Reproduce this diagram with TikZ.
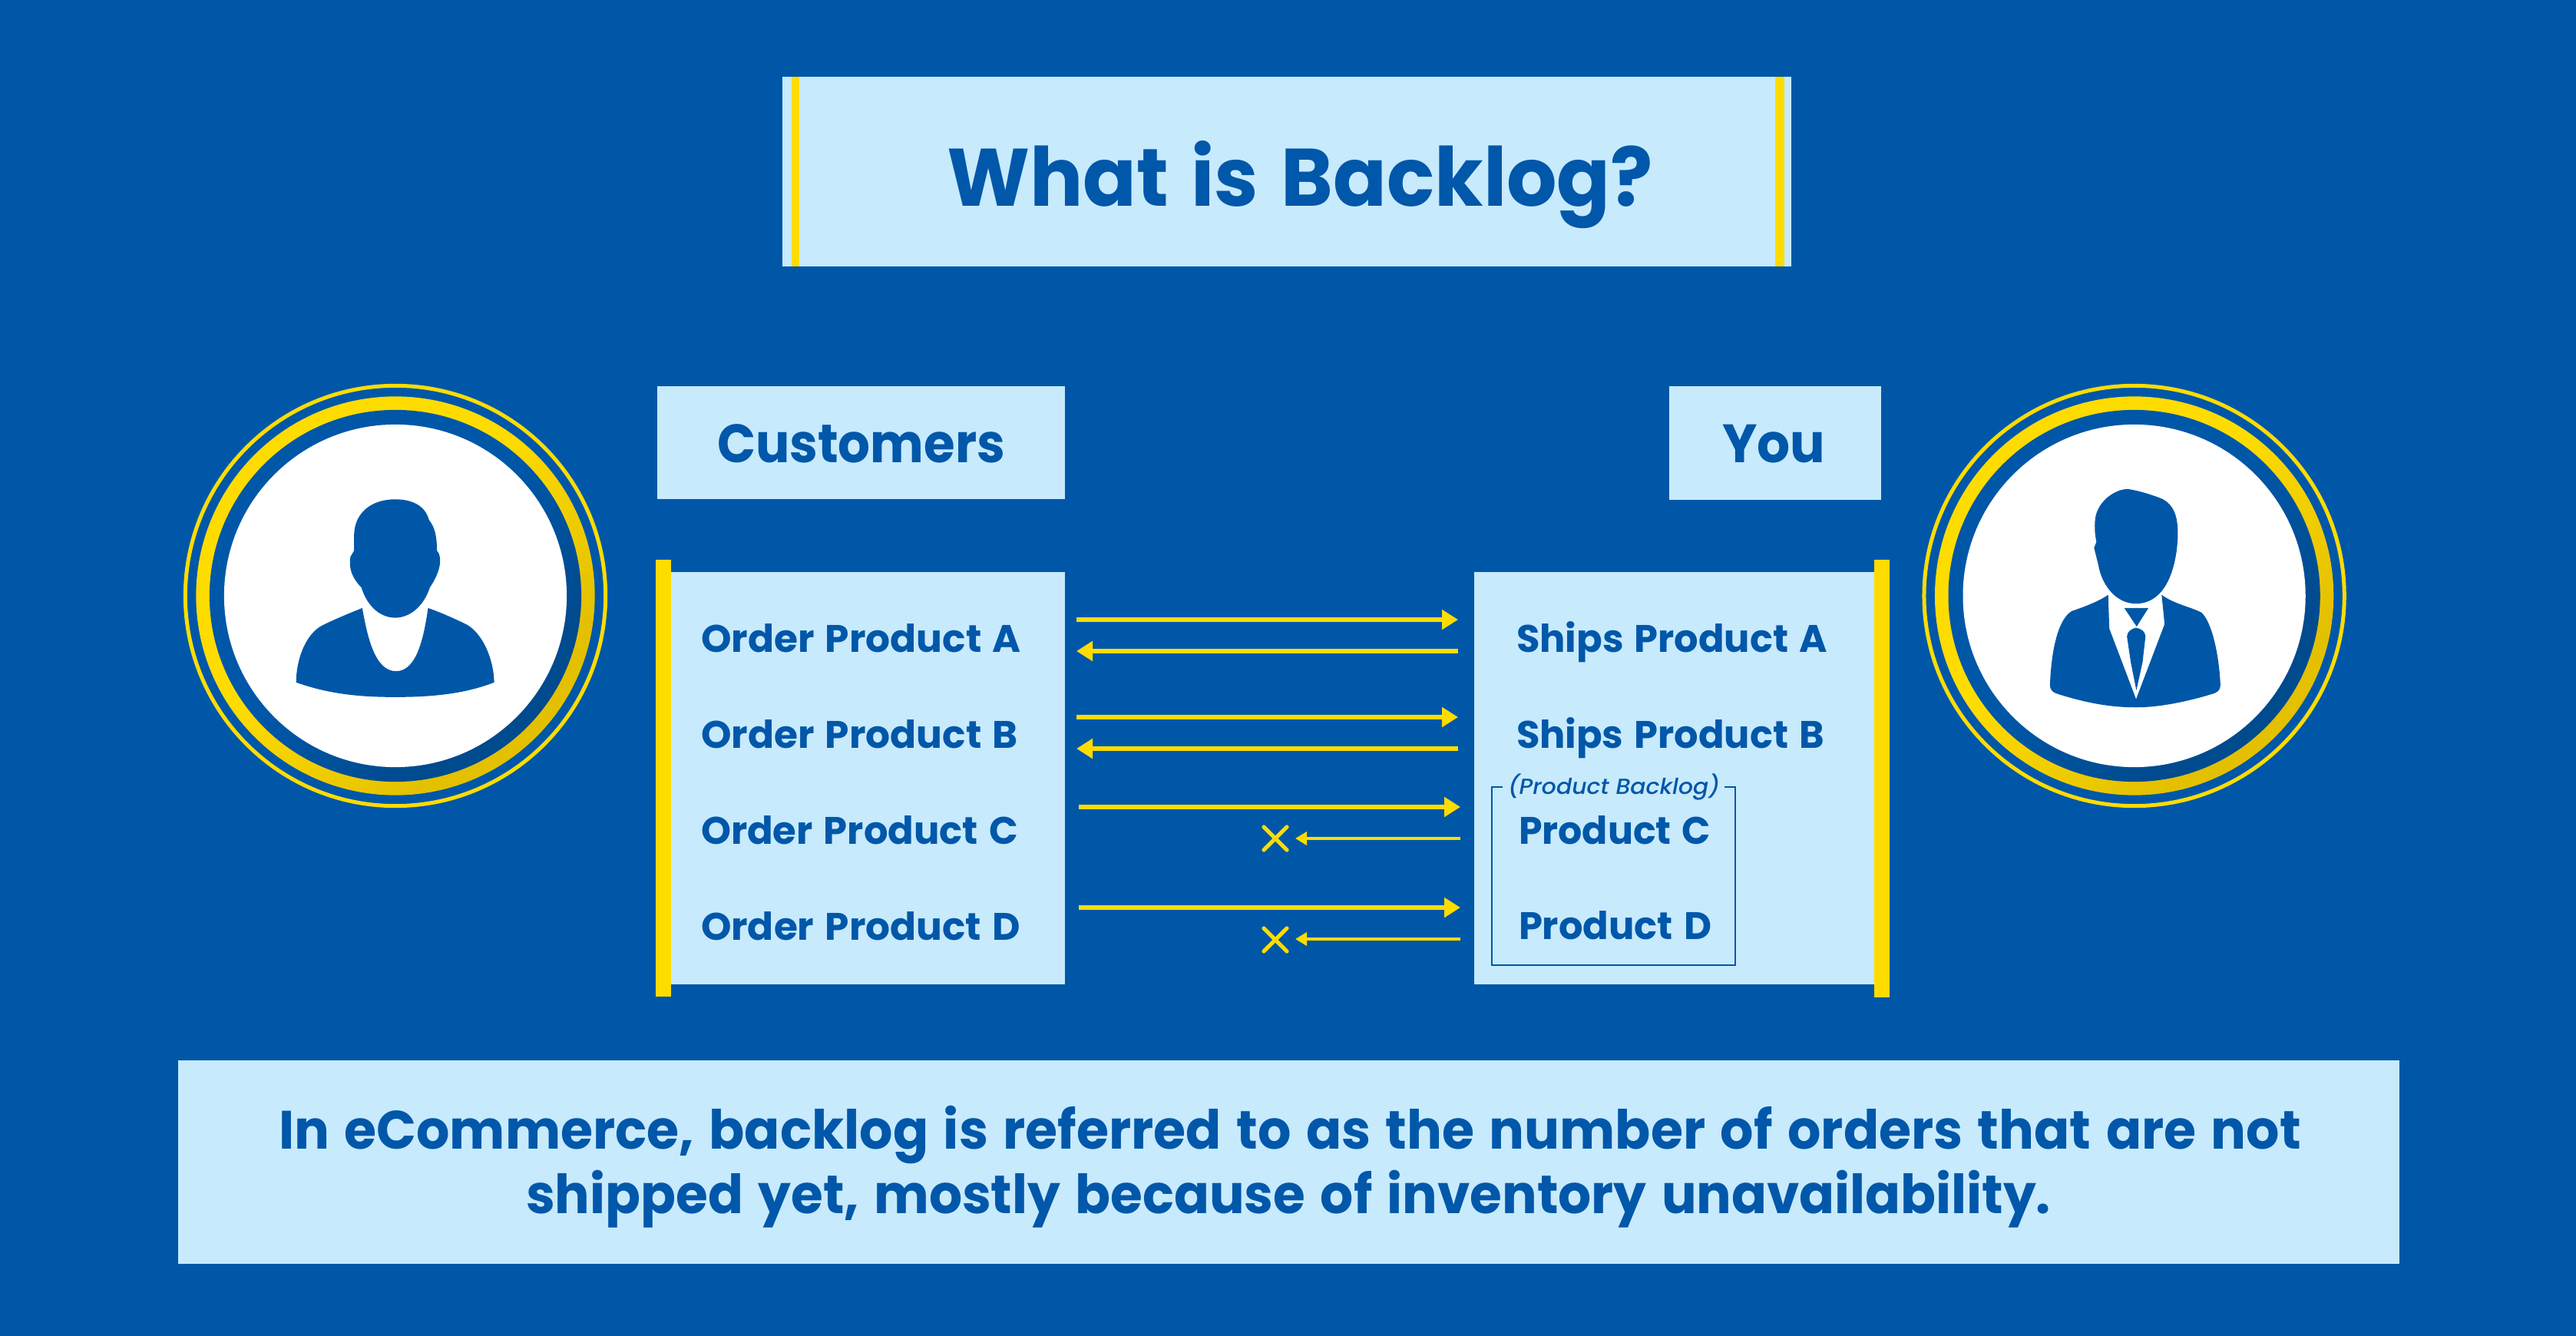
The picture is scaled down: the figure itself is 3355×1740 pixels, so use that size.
\documentclass[tikz,border=0pt]{standalone}
\usepackage{fontspec}
\usepackage{graphicx}
\setmainfont{Poppins}[BoldFeatures={WordSpace=1.35},ItalicFont={Poppins Medium Italic}]
\usetikzlibrary{arrows.meta,fit}
\definecolor{bgblue}{HTML}{0057A8}
\definecolor{boxblue}{HTML}{C7EAFD}
\definecolor{inkblue}{HTML}{0157A9}
\definecolor{sunny}{HTML}{FFDC00}
\definecolor{sunnydark}{HTML}{E3C000}
\definecolor{deepblue}{HTML}{004A8E}
\pgfdeclareverticalshading{goldfade}{100bp}{color(0bp)=(sunnydark); color(30bp)=(sunnydark); color(55bp)=(sunny); color(100bp)=(sunny)}
\pgfdeclareverticalshading{bluefade}{100bp}{color(0bp)=(deepblue); color(30bp)=(deepblue); color(52bp)=(bgblue); color(100bp)=(bgblue)}
\newlength\pxu \setlength\pxu{0.01cm}
\newsavebox\tbox
\newcommand\fw[3]{\sbox\tbox{\fontsize{#2}{#2}\selectfont\bfseries #3}\resizebox{#1\pxu}{\ht\tbox}{\usebox\tbox}}
\newcommand\fwi[3]{\sbox\tbox{\fontsize{#2}{#2}\selectfont\itshape #3}\resizebox{#1\pxu}{\ht\tbox}{\usebox\tbox}}
\tikzset{
  panel/.style={fill=boxblue,draw=none,inner sep=0pt,outer sep=0pt},
  yellowbar/.style={fill=sunny,draw=none,inner sep=0pt,outer sep=0pt},
  txt/.style={anchor=base west,inner sep=0pt,outer sep=0pt,text=inkblue},
  long arrow/.style={draw=sunny,line width=0.054cm,-{Triangle[length=0.21cm,width=0.25cm]}},
  short arrow/.style={draw=sunny,line width=0.04cm,-{Triangle[length=0.15cm,width=0.17cm]}},
  crossline/.style={draw=sunny,line width=0.052cm,line cap=round},
  thinring/.style={circle,draw=sunny,line width=0.05cm,fill=bgblue,inner sep=0pt,outer sep=0pt,minimum size=5.47cm},
  goldring/.style={circle,shading=goldfade,shading angle=45,inner sep=0pt,outer sep=0pt,minimum size=5.19cm},
  bluering/.style={circle,shading=bluefade,shading angle=45,inner sep=0pt,outer sep=0pt,minimum size=4.84cm},
  whitedisc/.style={circle,fill=white,inner sep=0pt,outer sep=0pt,minimum size=4.46cm},
}
\begin{document}
\begin{tikzpicture}[x=0.01cm,y=-0.01cm]
\useasboundingbox (0,0) rectangle (3355,1740);
\fill[bgblue] (0,0) rectangle (3355,1740);

% title
\node[panel,fit={(1019,100)(2333,347)}] (titlebox) {};
\node[yellowbar,fit={(1031,100)(1041,347)}] (titleL) {};
\node[yellowbar,fit={(2312,100)(2324,347)}] (titleR) {};
\node[txt] (title) at (1233,269) {\fw{920}{30.2}{What is Backlog?}};

% headers
\node[panel,fit={(856,503)(1387,650)}] (custbox) {};
\node[txt] (cust) at (934,602.5) {\fw{375}{20}{Customers}};
\node[panel,fit={(2174,503)(2450,651)}] (youbox) {};
\node[txt] (you) at (2243,602.5) {\fw{134}{20}{You}};

% left panel
\node[panel,fit={(874,745)(1387,1282)}] (leftbox) {};
\node[yellowbar,fit={(854,729)(874,1298)}] (leftbar) {};
\node[txt] (oa) at (913,849) {\fw{417}{14.2}{Order Product A}};
\node[txt] (ob) at (913,974) {\fw{413}{14.2}{Order Product B}};
\node[txt] (oc) at (913,1099) {\fw{413}{14.2}{Order Product C}};
\node[txt] (od) at (913,1224) {\fw{416}{14.2}{Order Product D}};

% right panel
\node[panel,fit={(1920,745)(2441,1282)}] (rightbox) {};
\node[yellowbar,fit={(2441,729)(2461,1299)}] (rightbar) {};
\node[txt] (sa) at (1975,849) {\fw{405}{14.2}{Ships Product A}};
\node[txt] (sb) at (1975,974) {\fw{401}{14.2}{Ships Product B}};
\node[txt] (pc) at (1978,1099) {\fw{250}{14.2}{Product C}};
\node[txt] (pd) at (1978,1223) {\fw{251}{14.2}{Product D}};
\node[txt] (pb) at (1964,1034) {\fwi{276}{8.1}{(Product Backlog)}};

% backlog frame
\coordinate (fa) at (1957,1025);
\coordinate (fb) at (1943,1025);
\coordinate (fc) at (1943,1257);
\coordinate (fd) at (2260,1257);
\coordinate (fe) at (2260,1025);
\coordinate (ff) at (2246,1025);
\draw[inkblue,line width=0.017cm] (fa) -- (fb) -- (fc) -- (fd) -- (fe) -- (ff);

% arrows
\coordinate (a1s) at (1402,807); \coordinate (a1e) at (1899,807);
\coordinate (b1s) at (1899,848); \coordinate (b1e) at (1402,848);
\coordinate (a2s) at (1402,934); \coordinate (a2e) at (1899,934);
\coordinate (b2s) at (1899,975); \coordinate (b2e) at (1402,975);
\coordinate (a3s) at (1405,1051); \coordinate (a3e) at (1902,1051);
\coordinate (b3s) at (1902,1092); \coordinate (b3e) at (1687,1092);
\coordinate (a4s) at (1405,1182); \coordinate (a4e) at (1902,1182);
\coordinate (b4s) at (1902,1223); \coordinate (b4e) at (1687,1223);
\draw[long arrow] (a1s) -- (a1e);
\draw[long arrow] (b1s) -- (b1e);
\draw[long arrow] (a2s) -- (a2e);
\draw[long arrow] (b2s) -- (b2e);
\draw[long arrow] (a3s) -- (a3e);
\draw[short arrow] (b3s) -- (b3e);
\draw[long arrow] (a4s) -- (a4e);
\draw[short arrow] (b4s) -- (b4e);

% crosses
\coordinate (x1a) at (1646,1077); \coordinate (x1b) at (1676,1107);
\coordinate (x1c) at (1676,1077); \coordinate (x1d) at (1646,1107);
\coordinate (x2a) at (1646,1209); \coordinate (x2b) at (1676,1239);
\coordinate (x2c) at (1676,1209); \coordinate (x2d) at (1646,1239);
\draw[crossline] (x1a) -- (x1b);
\draw[crossline] (x1c) -- (x1d);
\draw[crossline] (x2a) -- (x2b);
\draw[crossline] (x2c) -- (x2d);

% left avatar
\node[thinring] (lthin) at (515,776) {};
\node[goldring] (lgold) at (515,776) {};
\node[bluering] (lblue) at (515,776) {};
\node[whitedisc] (lwhite) at (515,776) {};
\begin{scope}[shift={(220,480)},scale=0.3827]
\fill[bgblue] (770,445) .. controls (825,445) and (872,465) .. (885,515)
  .. controls (905,540) and (912,570) .. (912,620) -- (918,628)
  .. controls (928,650) and (925,690) .. (888,745)
  .. controls (865,815) and (815,848) .. (770,848)
  .. controls (720,848) and (675,810) .. (655,745)
  .. controls (625,715) and (610,680) .. (618,640) -- (630,620) -- (630,570)
  .. controls (630,490) and (690,445) .. (770,445) -- cycle;
\fill[bgblue] (658,815) .. controls (620,830) and (560,855) .. (520,875)
  .. controls (465,905) and (433,990) .. (433,1068)
  .. controls (550,1110) and (660,1118) .. (770,1118)
  .. controls (880,1118) and (1000,1110) .. (1107,1068)
  .. controls (1105,990) and (1070,905) .. (1015,872)
  .. controls (970,850) and (925,830) .. (882,815)
  .. controls (868,910) and (845,1030) .. (773,1030)
  .. controls (700,1030) and (675,910) .. (658,815) -- cycle;
\end{scope}

% right avatar
\node[thinring] (rthin) at (2779.6,776) {};
\node[goldring] (rgold) at (2779.6,776) {};
\node[bluering] (rblue) at (2779.6,776) {};
\node[whitedisc] (rwhite) at (2779.6,776) {};
\begin{scope}[shift={(2490,480)},scale=0.3827]
\fill[bgblue] (735,410) .. controls (770,415) and (820,430) .. (855,445)
  .. controls (890,465) and (905,500) .. (905,560)
  .. controls (905,640) and (880,800) .. (762,800)
  .. controls (690,800) and (645,730) .. (635,670) -- (620,610) -- (628,590)
  .. controls (622,560) and (620,530) .. (626,500)
  .. controls (640,445) and (695,410) .. (735,410) -- cycle;
\fill[bgblue] (668,770) .. controls (640,790) and (590,810) .. (545,825)
  .. controls (500,850) and (475,950) .. (470,1075)
  .. controls (470,1095) and (480,1102) .. (495,1107)
  .. controls (600,1140) and (680,1153) .. (762,1153)
  .. controls (850,1153) and (950,1130) .. (1030,1105)
  .. controls (1045,1098) and (1050,1090) .. (1050,1075)
  .. controls (1045,970) and (1020,860) .. (985,830)
  .. controls (945,810) and (890,800) .. (850,770)
  -- (860,870) -- (763,1125) -- (672,885) -- cycle;
\fill[bgblue] (723,815) -- (805,815) -- (765,878) -- cycle;
\fill[bgblue] (763,882) .. controls (780,885) and (795,895) .. (795,912)
  -- (785,1000) -- (764,1095) -- (745,1000) -- (732,912)
  .. controls (732,895) and (748,885) .. (763,882) -- cycle;
\end{scope}

% bottom
\node[panel,fit={(232,1381)(3125,1646)}] (bottombox) {};
\node[txt] (l1) at (363,1496) {\fw{2634}{20}{In eCommerce, backlog is referred to as the number of orders that are not}};
\node[txt] (l2) at (685,1580) {\fw{1986}{20}{shipped yet, mostly because of inventory unavailability.}};
\end{tikzpicture}
\end{document}
